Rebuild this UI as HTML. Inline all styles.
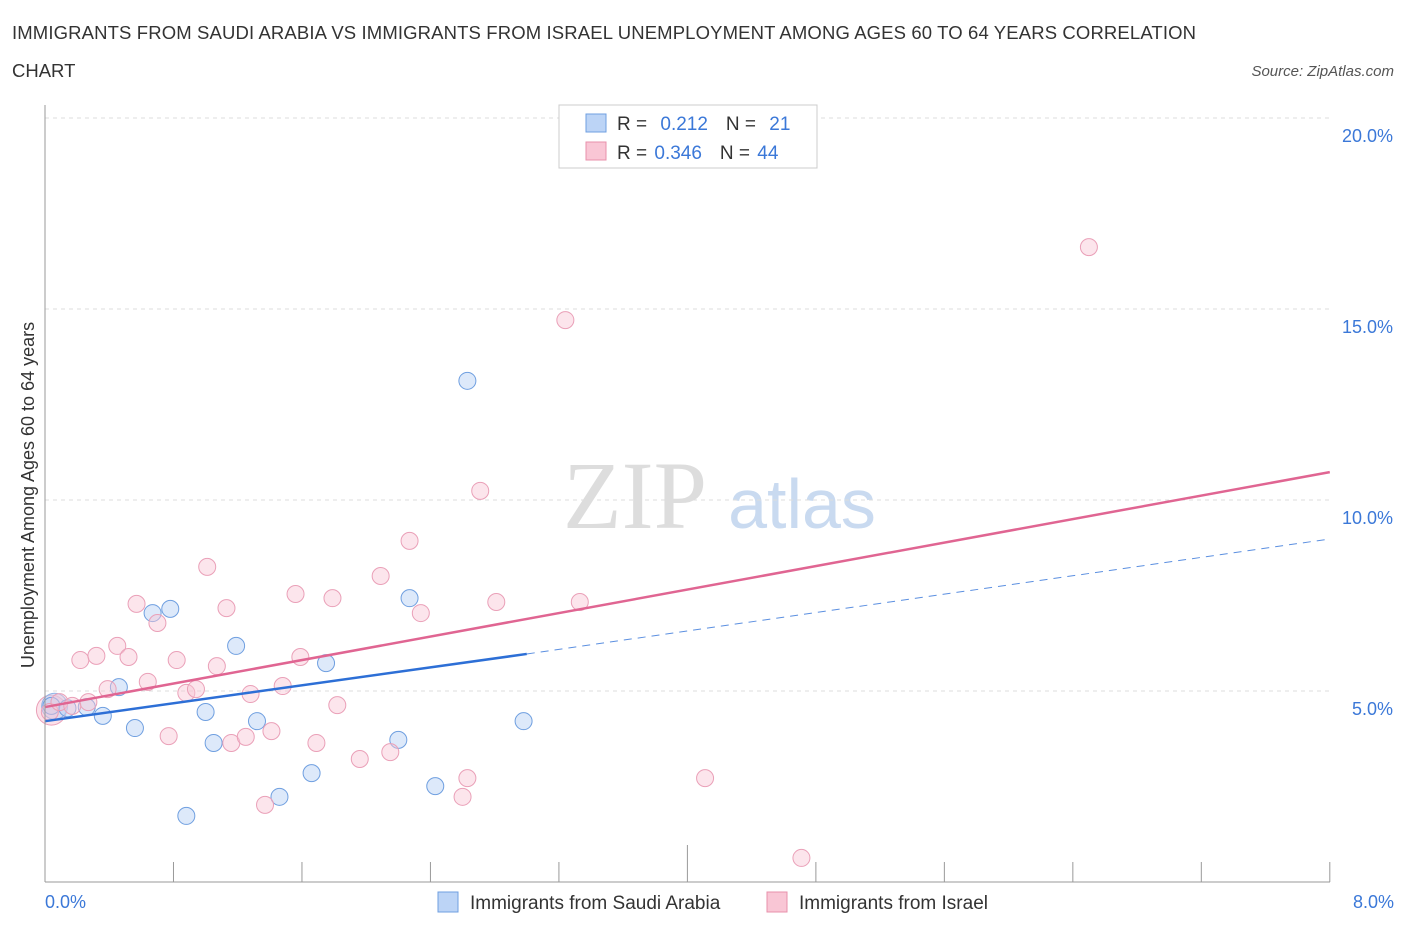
<!DOCTYPE html>
<html><head><meta charset="utf-8"><style>
body{margin:0;background:#fff;font-family:"Liberation Sans",sans-serif;}
</style></head><body>
<svg id="c" width="1406" height="930" font-family="Liberation Sans, sans-serif">
<text x="12" y="39" font-size="18.5" fill="#333" textLength="1184">IMMIGRANTS FROM SAUDI ARABIA VS IMMIGRANTS FROM ISRAEL UNEMPLOYMENT AMONG AGES 60 TO 64 YEARS CORRELATION</text>
<text x="12" y="77" font-size="18.5" fill="#333">CHART</text>
<text x="1394" y="76" font-size="15" fill="#555" font-style="italic" text-anchor="end">Source: ZipAtlas.com</text>
<text x="635" y="528" font-size="96" fill="#ddd" style="font-family:'Liberation Serif',serif" text-anchor="middle">ZIP</text>
<text x="802" y="528" font-size="70" fill="#c9daf0" text-anchor="middle">atlas</text>
<text transform="translate(34,495) rotate(-90)" font-size="18" fill="#333" text-anchor="middle">Unemployment Among Ages 60 to 64 years</text>
<g id="grid"></g><g id="pts"></g><g id="lines"></g>
<line x1="45" y1="105" x2="45" y2="882" stroke="#999"/>
<line x1="45" y1="882" x2="1330" y2="882" stroke="#999"/>
<text x="45" y="908" font-size="18" fill="#3b78d8">0.0%</text>
<text x="1394" y="908" font-size="18" fill="#3b78d8" text-anchor="end">8.0%</text>
<g>
<rect x="559" y="105" width="258" height="63" fill="#fff" stroke="#ccc"/>
<rect x="586" y="114" width="20" height="18" fill="#bcd4f6" stroke="#6f9fe0"/>
<rect x="586" y="142" width="20" height="18" fill="#f9c6d5" stroke="#e890ab"/>
<text x="617" y="130" font-size="19" fill="#333">R = <tspan fill="#3b78d8" dx="8">0.212</tspan><tspan dx="18" fill="#333">N = </tspan><tspan dx="8" fill="#3b78d8">21</tspan></text>
<text x="617" y="159" font-size="19" fill="#333">R = <tspan fill="#3b78d8" dx="2">0.346</tspan><tspan dx="18" fill="#333">N = </tspan><tspan dx="2" fill="#3b78d8">44</tspan></text>
</g>
<g>
<rect x="438" y="892" width="20" height="20" fill="#bcd4f6" stroke="#6f9fe0"/>
<text x="470" y="909" font-size="19" fill="#333">Immigrants from Saudi Arabia</text>
<rect x="767" y="892" width="20" height="20" fill="#f9c6d5" stroke="#e890ab"/>
<text x="799" y="909" font-size="19" fill="#333">Immigrants from Israel</text>
</g>
</svg>
<script>
const yTicks=[5,10,15,20];
const xTickVals=[0,0.8,1.6,2.4,3.2,4,4.8,5.6,6.4,7.2,8];
const blueX=[0.04,0.14,0.26,0.36,0.46,0.56,0.67,0.78,0.88,1.00,1.05,1.19,1.32,1.46,1.66,1.75,2.20,2.27,2.43,2.63,2.98];
const blueY=[4.61,4.55,4.58,4.35,5.10,4.03,7.04,7.15,1.73,4.45,3.64,6.18,4.21,2.23,2.85,5.73,3.72,7.43,2.51,13.12,4.21];
const pinkX=[0.03,0.09,0.22,0.27,0.32,0.39,0.45,0.52,0.57,0.64,0.70,0.77,0.82,0.88,0.94,1.01,1.07,1.13,1.16,1.25,1.28,1.37,1.41,1.48,1.56,1.59,1.69,1.79,1.82,1.96,2.09,2.15,2.27,2.34,2.60,2.63,2.71,2.81,3.24,3.33,4.11,4.71,6.50,0.17];
const pinkY=[4.45,4.71,5.81,4.71,5.92,5.05,6.18,5.89,7.28,5.24,6.78,3.82,5.81,4.95,5.05,8.25,5.65,7.17,3.64,3.80,4.92,2.02,3.95,5.13,7.54,5.89,3.64,7.43,4.63,3.22,8.01,3.40,8.93,7.04,2.23,2.72,10.24,7.33,14.71,7.33,2.72,0.63,16.62,4.61];
const pinkLine=[4.58,10.73];
const blueLine=[4.21,5.97,3.0,8.98];
const NS='http://www.w3.org/2000/svg';
const X=v=>45+v*160.6, Y=v=>882-v*38.2;
function mk(t,a,p){const e=document.createElementNS(NS,t);for(const k in a)e.setAttribute(k,a[k]);p.appendChild(e);return e;}
const g=document.getElementById('grid');
yTicks.forEach(v=>{
 const l=mk('line',{x1:45,x2:1330,y1:Y(v),y2:Y(v),stroke:'#ddd','stroke-dasharray':'4,4'},g);
 
 
 const t=mk('text',{x:1393,y:Y(v)+24,'font-size':18,fill:'#3b78d8','text-anchor':'end'},g);
 t.textContent=v.toFixed(1)+'%';
 
 
});
xTickVals.forEach((v,i)=>{
 const l=mk('line',{x1:X(v),x2:X(v),y1:(i==5?845:862),y2:882,stroke:'#999'},g);
 
 
});
const p=document.getElementById('pts');
mk('circle',{cx:X(0.04),cy:Y(4.5),r:15,fill:'rgba(249,198,213,0.5)',stroke:'#eaa0b8'},p);
mk('circle',{cx:X(0.06),cy:Y(4.6),r:13,fill:'rgba(188,212,246,0.5)',stroke:'#8fb3e6'},p);
blueX.forEach((x,i)=>{
 const c=mk('circle',{cx:X(x),cy:Y(blueY[i]),r:8.5,fill:'rgba(188,212,246,0.5)',stroke:'#6f9fe0'},p);
 
 
});
pinkX.forEach((x,i)=>{
 const c=mk('circle',{cx:X(x),cy:Y(pinkY[i]),r:8.5,fill:'rgba(249,198,213,0.45)',stroke:'#eaa0b8'},p);
 
 
});
const L=document.getElementById('lines');
const pl=mk('line',{x1:X(0),y1:Y(pinkLine[0]),x2:X(8),y2:Y(pinkLine[1]),stroke:'#e06592','stroke-width':2.5},L);


const bl=mk('line',{x1:X(0),y1:Y(blueLine[0]),x2:X(blueLine[2]),y2:Y(blueLine[1]),stroke:'#2d6fd6','stroke-width':2.5},L);


const bd=mk('line',{x1:X(blueLine[2]),y1:Y(blueLine[1]),x2:X(8),y2:Y(blueLine[3]),stroke:'#5b8fe0','stroke-width':1,'stroke-dasharray':'8,6'},L);


</script>
</body></html>
